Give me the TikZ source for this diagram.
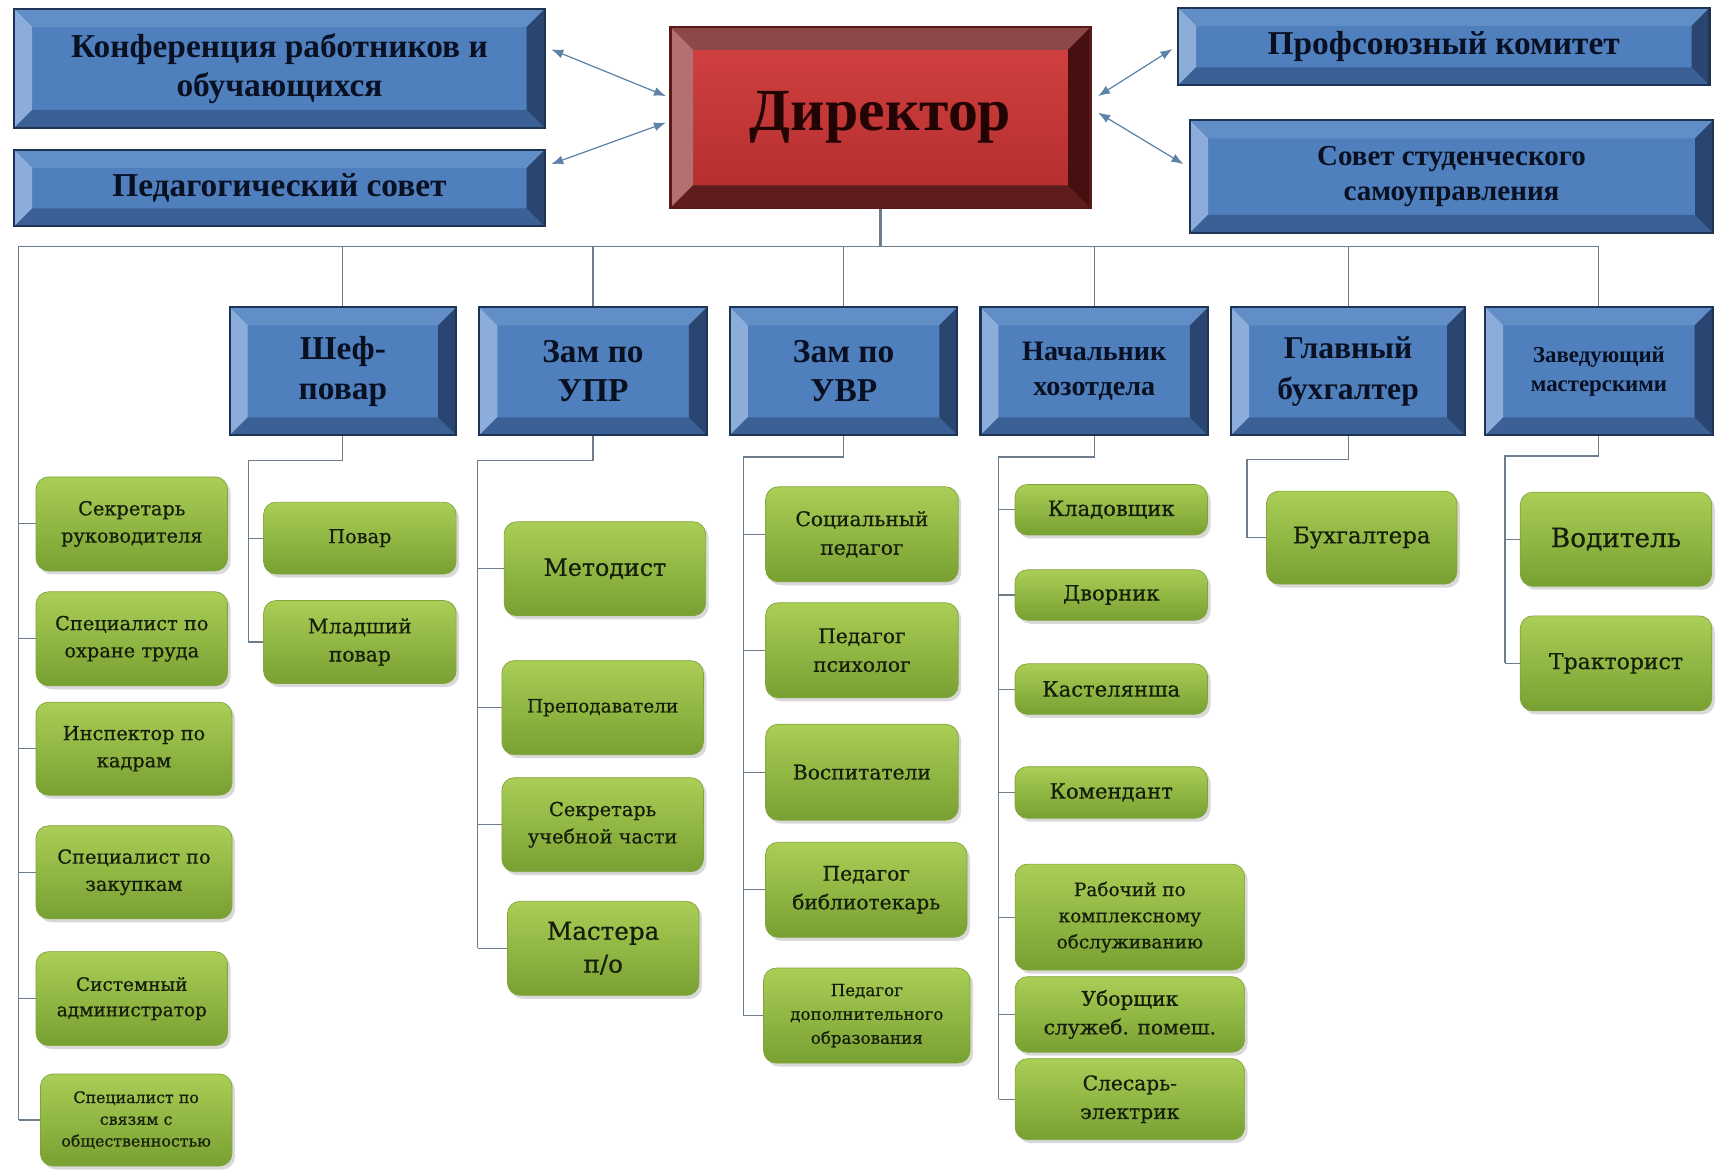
\documentclass[tikz,border=0pt]{standalone}
\usepackage{fontspec}
\setmainfont{DejaVu Serif}
\newfontfamily\headfont{Liberation Serif}
\newfontfamily\leaffont[FakeBold=0.6]{DejaVu Serif}
\usetikzlibrary{arrows.meta,positioning,shadows}

\definecolor{blueface}{RGB}{79,127,189}
\definecolor{bluetop}{RGB}{98,142,200}
\definecolor{blueleft}{RGB}{140,172,218}
\definecolor{bluebot}{RGB}{58,96,150}
\definecolor{blueright}{RGB}{42,70,112}
\definecolor{bluedge}{RGB}{30,52,85}
\definecolor{bluetext}{RGB}{8,16,34}
\definecolor{redhi}{RGB}{212,66,66}
\definecolor{redlo}{RGB}{178,44,44}
\definecolor{redtop}{RGB}{140,72,72}
\definecolor{redleft}{RGB}{178,112,112}
\definecolor{redbot}{RGB}{95,28,28}
\definecolor{redright}{RGB}{70,16,16}
\definecolor{rededge}{RGB}{90,25,25}
\definecolor{redtext}{RGB}{34,4,4}
\definecolor{leaftop}{RGB}{170,206,86}
\definecolor{leafbot}{RGB}{120,160,50}
\definecolor{leafedge}{RGB}{128,164,58}
\definecolor{leaftext}{RGB}{20,30,10}
\definecolor{wirecol}{RGB}{110,125,140}
\definecolor{linkcol}{RGB}{94,130,168}

\begin{document}
\begin{tikzpicture}[
        node distance=0.42cm,
        >={Latex[length=2.4mm,width=1.8mm]},
        bevel/.style n args={5}{path picture={
            \fill[#2] (path picture bounding box.north west) -- (path picture bounding box.north east)
                -- ([shift={(-#1,-#1)}]path picture bounding box.north east)
                -- ([shift={(#1,-#1)}]path picture bounding box.north west) -- cycle;
            \fill[#3] (path picture bounding box.north west) -- (path picture bounding box.south west)
                -- ([shift={(#1,#1)}]path picture bounding box.south west)
                -- ([shift={(#1,-#1)}]path picture bounding box.north west) -- cycle;
            \fill[#4] (path picture bounding box.south west) -- (path picture bounding box.south east)
                -- ([shift={(-#1,#1)}]path picture bounding box.south east)
                -- ([shift={(#1,#1)}]path picture bounding box.south west) -- cycle;
            \fill[#5] (path picture bounding box.south east) -- (path picture bounding box.north east)
                -- ([shift={(-#1,-#1)}]path picture bounding box.north east)
                -- ([shift={(-#1,#1)}]path picture bounding box.south east) -- cycle;
        }},
        headbox/.style={rectangle, draw=bluedge, line width=1.2pt, fill=blueface,
            bevel={0.36cm}{bluetop}{blueleft}{bluebot}{blueright},
            text=bluetext, align=center, inner sep=0pt},
        chiefbox/.style={rectangle, draw=rededge, line width=1.2pt, top color=redhi, bottom color=redlo,
            bevel={0.45cm}{redtop}{redleft}{redbot}{redright},
            text=redtext, align=center, inner sep=0pt},
        leaf/.style={rectangle, rounded corners=0.25cm, top color=leaftop, bottom color=leafbot,
            draw=leafedge, line width=0.4pt,
            drop shadow={shadow xshift=0.06cm, shadow yshift=-0.07cm, opacity=0.3},
            text=leaftext, align=center, inner sep=0pt},
        hfs/.style 2 args={font=\headfont\bfseries\fontsize{#1}{#2}\selectfont},
        lfs/.style 2 args={font=\leaffont\fontsize{#1}{#2}\selectfont},
        wire/.style={draw=wirecol, line width=0.6pt},
        link/.style={<->, draw=linkcol, line width=0.7pt}
    ]
    \useasboundingbox (0,0) rectangle (34.3,-23.4);

    % Top level
    \node [chiefbox, hfs={34}{38}, minimum width=8.4cm, minimum height=3.61cm] (dir) at (17.61,-2.352) {Директор};
    \node [headbox, hfs={19}{22}, minimum width=10.61cm, minimum height=2.38cm] (conf) at (5.589,-1.367) {Конференция работников и\\обучающихся};
    \node [headbox, hfs={19}{22}, minimum width=10.61cm, minimum height=1.53cm] (pedsov) at (5.589,-3.762) {Педагогический совет};
    \node [headbox, hfs={19}{22}, minimum width=10.63cm, minimum height=1.55cm] (prof) at (28.875,-0.930) {Профсоюзный комитет};
    \node [headbox, hfs={16.5}{19.5}, minimum width=10.46cm, minimum height=2.25cm] (stud) at (29.03,-3.533) {Совет студенческого\\самоуправления};

    % Heads
    \node [headbox, hfs={19}{22.4}, minimum width=4.53cm, minimum height=2.56cm] (shef) at (6.858,-7.427) {Шеф-\\повар};
    \node [headbox, hfs={19}{22.4}, minimum width=4.55cm, minimum height=2.56cm, right=of shef] (upr) {Зам по\\УПР};
    \node [headbox, hfs={19}{22.4}, minimum width=4.55cm, minimum height=2.56cm, right=of upr] (uvr) {Зам по\\УВР};
    \node [headbox, hfs={16}{20}, minimum width=4.55cm, minimum height=2.56cm, right=of uvr] (hoz) {Начальник\\хозотдела};
    \node [headbox, hfs={18}{23}, minimum width=4.68cm, minimum height=2.56cm, right=of hoz] (buhgl) {Главный\\бухгалтер};
    \node [headbox, hfs={13}{16.3}, minimum width=4.55cm, minimum height=2.56cm, right=0.36cm of buhgl] (zav) {Заведующий\\мастерскими};

    % Staff, left column
    \node [leaf, lfs={11}{15.5}, minimum width=3.83cm, minimum height=1.88cm] (sekr) at (2.636,-10.478) {Секретарь\\руководителя};
    \node [leaf, lfs={11}{15.5}, minimum width=3.83cm, minimum height=1.88cm] (ohr) at (2.636,-12.775) {Специалист по\\охране труда};
    \node [leaf, lfs={11}{15.5}, minimum width=3.92cm, minimum height=1.86cm] (kadr) at (2.68,-14.973) {Инспектор по\\кадрам};
    \node [leaf, lfs={11}{15.5}, minimum width=3.92cm, minimum height=1.86cm] (zakup) at (2.68,-17.445) {Специалист по\\закупкам};
    \node [leaf, lfs={10.5}{14.5}, minimum width=3.83cm, minimum height=1.88cm] (sysadm) at (2.636,-19.972) {Системный\\администратор};
    \node [leaf, lfs={9}{12.4}, minimum width=3.83cm, minimum height=1.84cm] (svyaz) at (2.723,-22.40) {Специалист по\\связям с\\общественностью};

    % Staff, kitchen
    \node [leaf, lfs={11}{15.5}, minimum width=3.85cm, minimum height=1.44cm] (povar) at (7.197,-10.762) {Повар};
    \node [leaf, lfs={11.5}{16}, minimum width=3.85cm, minimum height=1.66cm] (mlpovar) at (7.197,-12.84) {Младший\\повар};

    % Staff, УПР
    \node [leaf, lfs={13.5}{17}, minimum width=4.03cm, minimum height=1.88cm] (metod) at (12.097,-11.375) {Методист};
    \node [leaf, lfs={10.5}{14}, minimum width=4.03cm, minimum height=1.88cm] (prepod) at (12.053,-14.153) {Преподаватели};
    \node [leaf, lfs={11}{15.5}, minimum width=4.03cm, minimum height=1.88cm] (sekruch) at (12.053,-16.494) {Секретарь\\учебной части};
    \node [leaf, lfs={14}{18.7}, minimum width=3.83cm, minimum height=1.88cm] (mastera) at (12.064,-18.966) {Мастера\\п/о};

    % Staff, УВР
    \node [leaf, lfs={11.5}{16.3}, minimum width=3.85cm, minimum height=1.9cm] (socped) at (17.238,-10.686) {Социальный\\педагог};
    \node [leaf, lfs={11.5}{16.3}, minimum width=3.85cm, minimum height=1.9cm] (psih) at (17.238,-13.005) {Педагог\\психолог};
    \node [leaf, lfs={11.5}{16.3}, minimum width=3.85cm, minimum height=1.92cm] (vosp) at (17.238,-15.444) {Воспитатели};
    \node [leaf, lfs={11.5}{16.3}, minimum width=4.03cm, minimum height=1.9cm] (bibl) at (17.325,-17.795) {Педагог\\библиотекарь};
    \node [leaf, lfs={9.5}{13.6}, minimum width=4.13cm, minimum height=1.9cm] (dop) at (17.336,-20.311) {Педагог\\дополнительного\\образования};

    % Staff, хозотдел
    \node [leaf, lfs={12}{15}, minimum width=3.85cm, minimum height=1.01cm] (klad) at (22.225,-10.194) {Кладовщик};
    \node [leaf, lfs={12}{15}, minimum width=3.85cm, minimum height=1.01cm] (dvor) at (22.225,-11.9) {Дворник};
    \node [leaf, lfs={12}{15}, minimum width=3.85cm, minimum height=1.01cm] (kastel) at (22.225,-13.781) {Кастелянша};
    \node [leaf, lfs={12}{15}, minimum width=3.85cm, minimum height=1.03cm] (koment) at (22.225,-15.848) {Комендант};
    \node [leaf, lfs={10.5}{14.9}, minimum width=4.59cm, minimum height=2.12cm] (rabochiy) at (22.597,-18.342) {Рабочий по\\комплексному\\обслуживанию};
    \node [leaf, lfs={11.5}{16.3}, minimum width=4.59cm, minimum height=1.51cm] (uborsh) at (22.597,-20.289) {Уборщик\\служеб. помеш.};
    \node [leaf, lfs={11.5}{16.3}, minimum width=4.59cm, minimum height=1.62cm] (slesar) at (22.597,-21.984) {Слесарь-\\электрик};

    % Staff, бухгалтерия and мастерские
    \node [leaf, lfs={13}{16}, minimum width=3.81cm, minimum height=1.86cm] (buh) at (27.234,-10.752) {Бухгалтера};
    \node [leaf, lfs={15}{18}, minimum width=3.83cm, minimum height=1.88cm] (vodit) at (32.32,-10.784) {Водитель};
    \node [leaf, lfs={12.5}{16}, minimum width=3.83cm, minimum height=1.9cm] (trakt) at (32.32,-13.267) {Тракторист};

    % Links round the director
    \draw [link] ([shift={(0.11,0.38)}]conf.east) -- ([shift={(-0.07,0.43)}]dir.west);
    \draw [link] ([shift={(0.11,0.48)}]pedsov.east) -- ([shift={(-0.07,-0.1)}]dir.west);
    \draw [link] ([shift={(0.13,0.43)}]dir.east) -- ([shift={(-0.09,-0.05)}]prof.west);
    \draw [link] ([shift={(0.13,0.1)}]dir.east) -- ([shift={(-0.11,0.25)}]stud.west);

    % Bus
    \coordinate (bus) at (0.372,-4.922);
    \draw [wire, line width=1.3pt] (dir.south) -- (dir.south |- bus);
    \draw [wire] (bus) -- (bus -| zav.north);
    \foreach \n in {shef,upr,uvr,hoz,buhgl,zav}
        \draw [wire] (bus -| \n.north) -- (\n.north);

    % Left column
    \draw [wire] (bus) -- (bus |- svyaz.west);
    \foreach \n in {sekr,ohr,kadr,zakup,sysadm,svyaz}
        \draw [wire] (bus |- \n.west) -- (\n.west);

    % Branches under the heads
    \coordinate (shefS) at (4.966,-9.21);
    \coordinate (uprS) at (9.559,-9.21);
    \coordinate (uvrS) at (14.875,-9.14);
    \coordinate (hozS) at (19.97,-9.14);
    \coordinate (buhS) at (24.94,-9.19);
    \coordinate (zavS) at (30.10,-9.12);

    \draw [wire] (shef.south) |- (shefS) -- (shefS |- mlpovar.west);
    \foreach \n in {povar,mlpovar}
        \draw [wire] (shefS |- \n.west) -- (\n.west);

    \draw [wire] (upr.south) |- (uprS) -- (uprS |- mastera.west);
    \foreach \n in {metod,prepod,sekruch,mastera}
        \draw [wire] (uprS |- \n.west) -- (\n.west);

    \draw [wire] (uvr.south) |- (uvrS) -- (uvrS |- dop.west);
    \foreach \n in {socped,psih,vosp,bibl,dop}
        \draw [wire] (uvrS |- \n.west) -- (\n.west);

    \draw [wire] (hoz.south) |- (hozS) -- (hozS |- slesar.west);
    \foreach \n in {klad,dvor,kastel,koment,rabochiy,uborsh,slesar}
        \draw [wire] (hozS |- \n.west) -- (\n.west);

    \draw [wire] (buhgl.south) |- (buhS) -- (buhS |- buh.west) -- (buh.west);

    \draw [wire] (zav.south) |- (zavS) -- (zavS |- trakt.west);
    \foreach \n in {vodit,trakt}
        \draw [wire] (zavS |- \n.west) -- (\n.west);
\end{tikzpicture}
\end{document}
